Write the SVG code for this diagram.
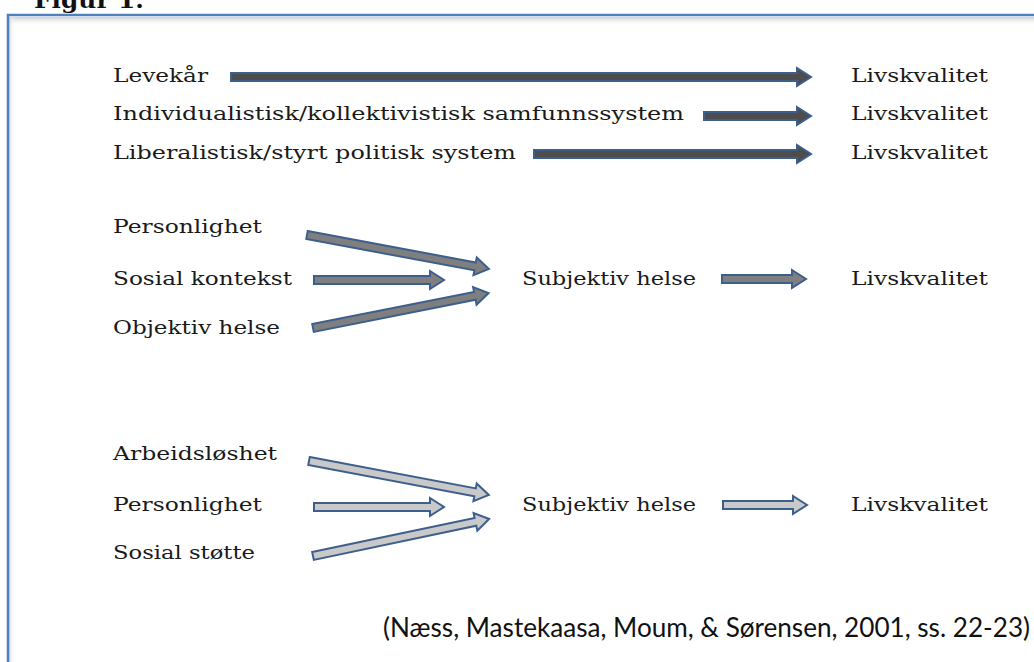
<svg xmlns="http://www.w3.org/2000/svg" width="1034" height="662" viewBox="0 0 1034 662">
<defs>
<linearGradient id="shTop" x1="0" y1="0" x2="0" y2="1"><stop offset="0" stop-color="#cfcfcf"/><stop offset="1" stop-color="#ffffff" stop-opacity="0"/></linearGradient>
<linearGradient id="shLeft" x1="0" y1="0" x2="1" y2="0"><stop offset="0" stop-color="#d8d8d8"/><stop offset="1" stop-color="#ffffff" stop-opacity="0"/></linearGradient>
<style>
.t{font-family:"DejaVu Serif","Liberation Serif",serif;font-size:19px;fill:#1a1a1a}
.ar{stroke:#3d5f8d;stroke-width:2;stroke-linejoin:miter}
.dk{fill:#4d4d4d}
.md{fill:#7f7f7f}
.lt{fill:#c9c9c9}
.cite{font-family:Lato,"Open Sans","Liberation Sans",sans-serif;font-size:27px;fill:#111}
</style>
</defs>
<rect width="1034" height="662" fill="#ffffff"/>
<text x="34" y="8" font-family="'DejaVu Serif','Liberation Serif',serif" font-weight="bold" font-size="22" fill="#111" textLength="110" lengthAdjust="spacingAndGlyphs">Figur 1.</text>
<g id="frame">
<rect x="9" y="17" width="1030" height="9" fill="url(#shTop)"/>
<rect x="9" y="17" width="6" height="650" fill="url(#shLeft)"/>
<rect x="8" y="15" width="1100" height="700" fill="none" stroke="#4f81bd" stroke-width="2.5"/>
</g>
<g id="row1">
<text class="t" x="113" y="82" textLength="95" lengthAdjust="spacingAndGlyphs">Levekår</text>
<text class="t" x="851" y="82" textLength="137" lengthAdjust="spacingAndGlyphs">Livskvalitet</text>
</g>
<g id="row2">
<text class="t" x="113" y="120" textLength="571" lengthAdjust="spacingAndGlyphs">Individualistisk/kollektivistisk samfunnssystem</text>
<text class="t" x="851" y="120" textLength="137" lengthAdjust="spacingAndGlyphs">Livskvalitet</text>
</g>
<g id="row3">
<text class="t" x="113" y="159" textLength="403" lengthAdjust="spacingAndGlyphs">Liberalistisk/styrt politisk system</text>
<text class="t" x="851" y="159" textLength="137" lengthAdjust="spacingAndGlyphs">Livskvalitet</text>
</g>
<g id="group2">
<text class="t" x="113" y="233" textLength="149" lengthAdjust="spacingAndGlyphs">Personlighet</text>
<text class="t" x="113" y="285" textLength="179" lengthAdjust="spacingAndGlyphs">Sosial kontekst</text>
<text class="t" x="113" y="334" textLength="167" lengthAdjust="spacingAndGlyphs">Objektiv helse</text>
<text class="t" x="522" y="285" textLength="174" lengthAdjust="spacingAndGlyphs">Subjektiv helse</text>
<text class="t" x="851" y="285" textLength="137" lengthAdjust="spacingAndGlyphs">Livskvalitet</text>
</g>
<g id="group3">
<text class="t" x="113" y="460" textLength="164" lengthAdjust="spacingAndGlyphs">Arbeidsløshet</text>
<text class="t" x="113" y="511" textLength="149" lengthAdjust="spacingAndGlyphs">Personlighet</text>
<text class="t" x="113" y="559" textLength="142" lengthAdjust="spacingAndGlyphs">Sosial støtte</text>
<text class="t" x="522" y="511" textLength="174" lengthAdjust="spacingAndGlyphs">Subjektiv helse</text>
<text class="t" x="851" y="511" textLength="137" lengthAdjust="spacingAndGlyphs">Livskvalitet</text>
</g>
<g id="connectors">
<polygon class="ar dk" transform="translate(231,77)" points="0,-4 566,-4 566,-9 580,0 566,9 566,4 0,4"/>
<polygon class="ar dk" transform="translate(704,116)" points="0,-4 93,-4 93,-9 107,0 93,9 93,4 0,4"/>
<polygon class="ar dk" transform="translate(534,154)" points="0,-4 263,-4 263,-9 277,0 263,9 263,4 0,4"/>
<polygon class="ar md" transform="translate(307,235) rotate(10.58)" points="0,-4 171,-4 171,-9 185,0 171,9 171,4 0,4"/>
<polygon class="ar md" transform="translate(314,280)" points="0,-4 116,-4 116,-9 130,0 116,9 116,4 0,4"/>
<polygon class="ar md" transform="translate(313,328) rotate(-11.25)" points="0,-4 165,-4 165,-9 179,0 165,9 165,4 0,4"/>
<polygon class="ar md" transform="translate(722,279)" points="0,-4 70,-4 70,-9 84,0 70,9 70,4 0,4"/>
<polygon class="ar lt" transform="translate(309,461) rotate(10.70)" points="0,-4 169,-4 169,-9 183,0 169,9 169,4 0,4"/>
<polygon class="ar lt" transform="translate(314,507)" points="0,-4 116,-4 116,-9 130,0 116,9 116,4 0,4"/>
<polygon class="ar lt" transform="translate(313,556) rotate(-11.87)" points="0,-4 166,-4 166,-9 180,0 166,9 166,4 0,4"/>
<polygon class="ar lt" transform="translate(723,505)" points="0,-4 70,-4 70,-9 84,0 70,9 70,4 0,4"/>
</g>
<text class="cite" x="383" y="637" textLength="647" lengthAdjust="spacingAndGlyphs">(Næss, Mastekaasa, Moum, &amp; Sørensen, 2001, ss. 22-23)</text>
</svg>
